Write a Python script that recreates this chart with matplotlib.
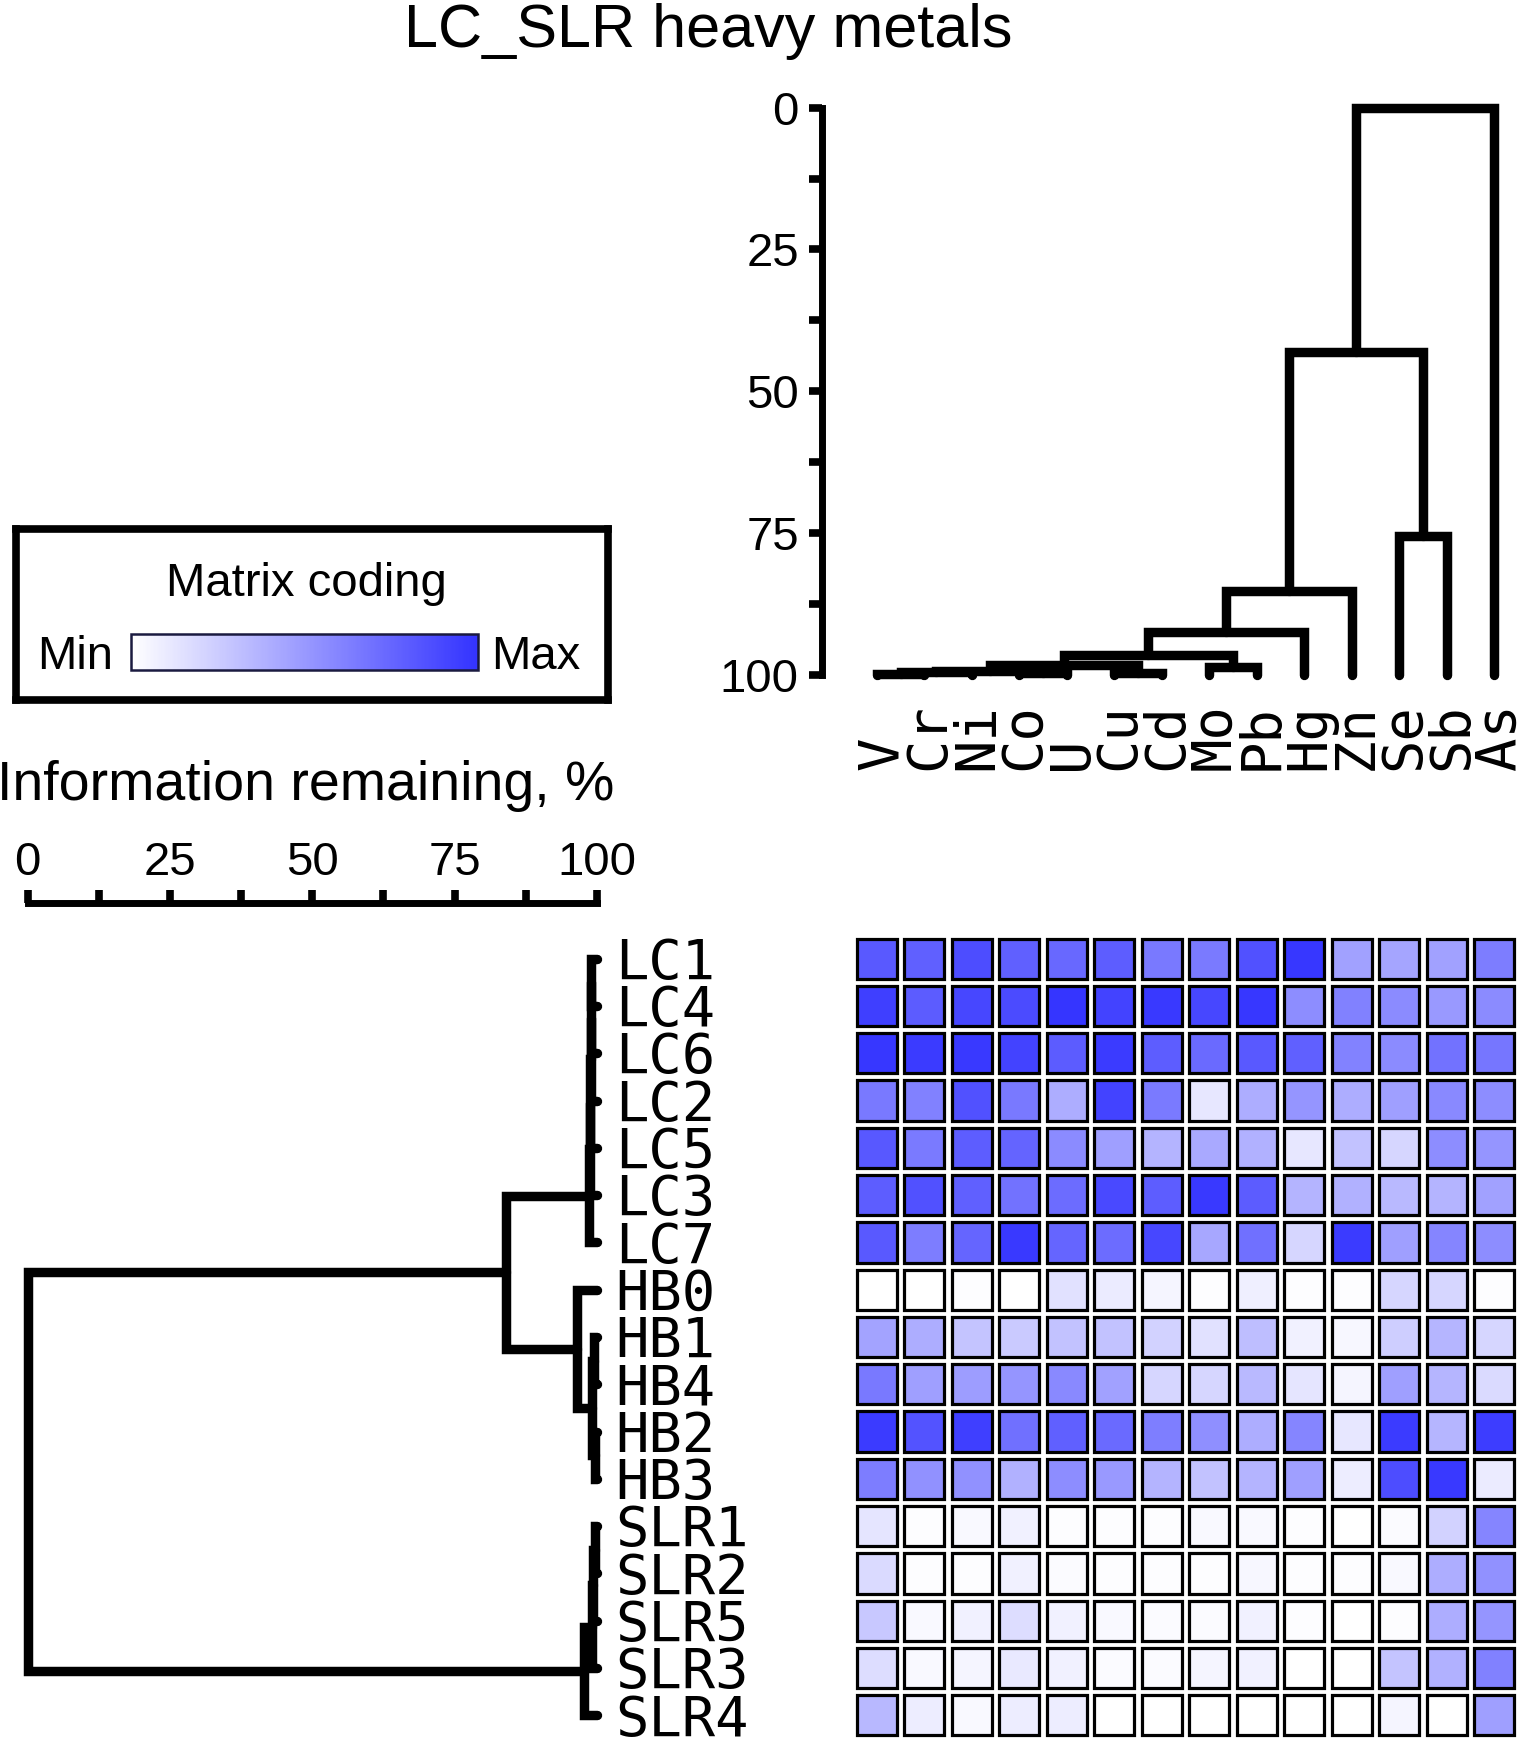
import numpy as np
import matplotlib
matplotlib.use('Agg')
import matplotlib.pyplot as plt
from matplotlib import transforms
from matplotlib.colors import LinearSegmentedColormap, Normalize
from matplotlib.cm import ScalarMappable
from matplotlib.patches import Rectangle
from matplotlib.ticker import MultipleLocator

plt.rcParams['font.family'] = ['Liberation Sans', 'DejaVu Sans']

W, H, DPI = 1518, 1739, 100

metals = ['V', 'Cr', 'Ni', 'Co', 'U', 'Cu', 'Cd', 'Mo', 'Pb', 'Hg', 'Zn', 'Se', 'Sb', 'As']
samples = ['LC1', 'LC4', 'LC6', 'LC2', 'LC5', 'LC3', 'LC7', 'HB0', 'HB1', 'HB4',
           'HB2', 'HB3', 'SLR1', 'SLR2', 'SLR5', 'SLR3', 'SLR4']

# matrix coding, 0 = min, 1 = max (one list per sample, metals in order above)
lc1 = [0.81, 0.78, 0.87, 0.78, 0.74, 0.79, 0.66, 0.65, 0.85, 0.98, 0.46, 0.44, 0.46, 0.64]
lc4 = [0.94, 0.80, 0.90, 0.88, 0.99, 0.92, 0.97, 0.90, 0.98, 0.56, 0.62, 0.57, 0.50, 0.57]
lc6 = [0.98, 0.96, 0.97, 0.92, 0.80, 0.96, 0.79, 0.73, 0.81, 0.78, 0.61, 0.57, 0.69, 0.67]
lc2 = [0.66, 0.62, 0.85, 0.66, 0.40, 0.92, 0.65, 0.12, 0.40, 0.52, 0.40, 0.47, 0.58, 0.56]
lc5 = [0.82, 0.65, 0.79, 0.76, 0.57, 0.47, 0.37, 0.42, 0.38, 0.12, 0.30, 0.20, 0.56, 0.52]
lc3 = [0.79, 0.85, 0.78, 0.69, 0.72, 0.89, 0.79, 0.97, 0.80, 0.37, 0.38, 0.34, 0.37, 0.46]
lc7 = [0.81, 0.64, 0.75, 0.97, 0.75, 0.72, 0.90, 0.43, 0.70, 0.20, 0.96, 0.47, 0.60, 0.56]
hb0 = [0.00, 0.00, 0.01, 0.00, 0.15, 0.10, 0.05, 0.01, 0.08, 0.01, 0.01, 0.20, 0.20, 0.01]
hb1 = [0.45, 0.40, 0.29, 0.26, 0.30, 0.30, 0.22, 0.15, 0.32, 0.07, 0.04, 0.24, 0.36, 0.20]
hb4 = [0.66, 0.47, 0.48, 0.52, 0.58, 0.46, 0.20, 0.20, 0.34, 0.13, 0.05, 0.47, 0.36, 0.18]
hb2 = [0.96, 0.84, 0.94, 0.70, 0.78, 0.73, 0.63, 0.55, 0.40, 0.60, 0.12, 0.96, 0.36, 0.95]
hb3 = [0.64, 0.54, 0.54, 0.38, 0.56, 0.50, 0.37, 0.30, 0.37, 0.47, 0.09, 0.87, 0.97, 0.10]
slr1 = [0.13, 0.01, 0.03, 0.07, 0.01, 0.01, 0.01, 0.03, 0.03, 0.01, 0.00, 0.02, 0.22, 0.60]
slr2 = [0.18, 0.01, 0.01, 0.07, 0.02, 0.01, 0.01, 0.01, 0.04, 0.01, 0.01, 0.03, 0.40, 0.54]
slr5 = [0.27, 0.03, 0.07, 0.17, 0.07, 0.03, 0.02, 0.02, 0.07, 0.01, 0.00, 0.01, 0.40, 0.52]
slr3 = [0.17, 0.03, 0.05, 0.11, 0.07, 0.02, 0.02, 0.05, 0.07, 0.00, 0.00, 0.29, 0.38, 0.62]
slr4 = [0.35, 0.09, 0.03, 0.09, 0.09, 0.00, 0.00, 0.00, 0.00, 0.00, 0.00, 0.05, 0.00, 0.47]

# linkage: (child a, child b, information remaining %); index >= n means earlier merge n+k
metal_merges = [(0, 1, 99.9), (14, 2, 99.6), (3, 4, 99.7), (15, 16, 99.3),
                (5, 6, 99.8), (17, 18, 98.3), (7, 8, 98.6), (19, 20, 96.5),
                (21, 9, 92.5), (22, 10, 85.2), (11, 12, 75.5), (23, 24, 43.0),
                (25, 13, 0.0)]
sample_merges = [(0, 1, 99.0), (17, 2, 98.95), (18, 3, 98.9), (19, 4, 98.85),
                 (20, 5, 98.8), (21, 6, 98.6), (8, 9, 99.5), (10, 11, 99.6),
                 (23, 24, 99.1), (7, 25, 96.6), (22, 26, 84.0), (12, 13, 99.6),
                 (28, 14, 99.4), (29, 15, 99.2), (30, 16, 97.8), (27, 31, 0.0)]

matrix = np.array([lc1, lc4, lc6, lc2, lc5, lc3, lc7, hb0, hb1, hb4, hb2, hb3,
                   slr1, slr2, slr5, slr3, slr4])

cmap = LinearSegmentedColormap.from_list('wb', ['#ffffff', '#3333ff'])
LW = 6.8


def box(l, t, r, b):
    # pixel box (from top-left) -> figure fraction rect
    return [l / W, 1 - b / H, (r - l) / W, (b - t) / H]


def dendro(n, merges):
    pos = {i: float(i) for i in range(n)}
    hgt = {i: 100.0 for i in range(n)}
    segs = []
    for k, (a, b, h) in enumerate(merges):
        segs.append(([pos[a], pos[a], pos[b], pos[b]], [hgt[a], h, h, hgt[b]]))
        pos[n + k] = (pos[a] + pos[b]) / 2
        hgt[n + k] = h
    return segs


fig = plt.figure(figsize=(W / DPI, H / DPI), dpi=DPI)

# heatmap
ax_hm = fig.add_axes(box(853, 935, 1518, 1739))
g = 0.075
for i in range(len(samples)):
    for j in range(len(metals)):
        ax_hm.add_patch(Rectangle((j - 0.5 + g, i - 0.5 + g), 1 - 2 * g, 1 - 2 * g,
                                  facecolor=cmap(matrix[i, j]), edgecolor='black',
                                  lw=2.3, clip_on=False))
ax_hm.set_xlim(-0.5, len(metals) - 0.5)
ax_hm.set_ylim(len(samples) - 0.5, -0.5)
ax_hm.axis('off')

# metal dendrogram (top)
ax_top = fig.add_axes(box(853, 107.8, 1518, 674.6))
for xs, ys in dendro(len(metals), metal_merges):
    ax_top.plot(xs, ys, color='black', lw=LW, clip_on=False,
                solid_capstyle='round', solid_joinstyle='miter')
ax_top.set_xlim(-0.5, len(metals) - 0.5)
ax_top.set_ylim(100, 0)
for s in ['top', 'right', 'bottom']:
    ax_top.spines[s].set_visible(False)
ax_top.spines['left'].set_position(('outward', 22.5))
ax_top.spines['left'].set_linewidth(5)
ax_top.set_xticks([])
ax_top.yaxis.set_major_locator(MultipleLocator(25))
ax_top.yaxis.set_minor_locator(MultipleLocator(12.5))
ax_top.tick_params(axis='y', which='both', direction='out', length=9.5, width=5.5)
ax_top.tick_params(axis='y', which='major', labelsize=34, pad=7)

mono = dict(family='DejaVu Sans Mono', fontsize=40)
half_cap = 0.729 * 40 / 2 / 72
lab_y = transforms.blended_transform_factory(ax_top.transData, fig.transFigure)
lab_y = lab_y + transforms.ScaledTranslation(half_cap, 0, fig.dpi_scale_trans)
for j, m in enumerate(metals):
    ax_top.text(j, 1 - 770 / H, m, rotation=90, rotation_mode='anchor',
                ha='left', va='baseline', transform=lab_y, **mono)

# sample dendrogram (left)
ax_left = fig.add_axes(box(27.8, 935, 596.8, 1739))
for ys, xs in dendro(len(samples), sample_merges):
    ax_left.plot(xs, ys, color='black', lw=LW, clip_on=False,
                 solid_capstyle='round', solid_joinstyle='miter')
ax_left.set_xlim(0, 100)
ax_left.set_ylim(len(samples) - 0.5, -0.5)
for s in ['left', 'right', 'bottom']:
    ax_left.spines[s].set_visible(False)
ax_left.spines['top'].set_position(('outward', 22.7))
ax_left.spines['top'].set_linewidth(5)
ax_left.set_yticks([])
ax_left.xaxis.tick_top()
ax_left.xaxis.set_major_locator(MultipleLocator(25))
ax_left.xaxis.set_minor_locator(MultipleLocator(12.5))
ax_left.tick_params(axis='x', which='both', direction='out', length=9.5, width=5.5)
ax_left.tick_params(axis='x', which='major', labelsize=34, pad=4)

lab_x = transforms.blended_transform_factory(fig.transFigure, ax_left.transData)
lab_x = lab_x + transforms.ScaledTranslation(0, -half_cap, fig.dpi_scale_trans)
for i, s in enumerate(samples):
    ax_left.text(615 / W, i, s, ha='left', va='baseline', transform=lab_x, **mono)

fig.text(306 / W, 1 - 800 / H, 'Information remaining, %', ha='center',
         va='baseline', fontsize=40)

# legend box
ax_leg = fig.add_axes(box(15.6, 529, 608, 700))
ax_leg.set_xticks([])
ax_leg.set_yticks([])
for s in ax_leg.spines.values():
    s.set_linewidth(5.5)
fig.text(306 / W, 1 - 596 / H, 'Matrix coding', ha='center', va='baseline', fontsize=34)
fig.text(37 / W, 1 - 669 / H, 'Min', ha='left', va='baseline', fontsize=34)
fig.text(491 / W, 1 - 669 / H, 'Max', ha='left', va='baseline', fontsize=34)

ax_cb = fig.add_axes(box(131, 633.5, 478, 670))
cb = fig.colorbar(ScalarMappable(norm=Normalize(0, 1), cmap=cmap), cax=ax_cb,
                  orientation='horizontal')
cb.set_ticks([])
cb.outline.set_edgecolor('#1a1a40')
cb.outline.set_linewidth(1.8)

fig.text(708 / W, 1 - 46.6 / H, 'LC_SLR heavy metals', ha='center', va='baseline',
         fontsize=44)

fig.savefig('out.png', dpi=DPI)
